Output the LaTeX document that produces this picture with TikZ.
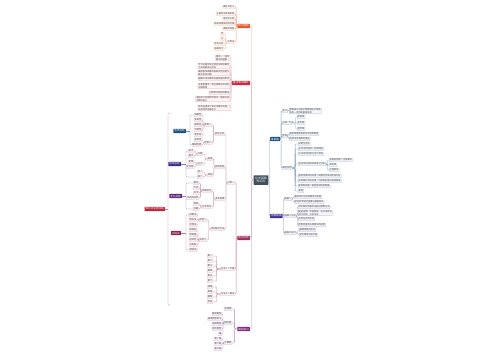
\documentclass[tikz,border=0pt]{standalone}
\usepackage{fontspec}
\setmainfont{Noto Sans CJK SC}
\usetikzlibrary{calc}
\newcommand\lfs{\fontsize{2.2}{2.6}\selectfont}
\newcommand\mfs{\fontsize{2.6}{3}\selectfont}
\newcommand\cfs{\fontsize{2.9}{3.6}\selectfont}
\definecolor{cOr}{HTML}{E2572C}
\definecolor{cRe}{HTML}{C92A3E}
\definecolor{cMa}{HTML}{A62A5E}
\definecolor{cPu}{HTML}{7C2B7E}
\definecolor{cNv}{HTML}{1E5180}
\definecolor{cIn}{HTML}{3F2F91}
\definecolor{cCe}{HTML}{3E4F5B}
\definecolor{sNv}{HTML}{1C4F7C}
\definecolor{sPu}{HTML}{3C2E86}
\definecolor{sPv}{HTML}{5B2977}
\definecolor{sMa}{HTML}{8E2150}
\definecolor{sRe}{HTML}{B5293C}
\begin{document}
\begin{tikzpicture}[x=1pt,y=-1pt,
  lf/.style={draw=#1!40, fill=#1!5, line width=0.25pt, inner xsep=0.6pt, inner ysep=0.45pt, font=\lfs, text=black!75, align=left, rounded corners=0.3pt},
  mn/.style={fill=#1, text=white, font=\mfs, inner xsep=1pt, inner ysep=0.9pt, rounded corners=0.4pt},
  al/.style={anchor=east}, ar/.style={anchor=west},
  hv/.style={to path={let \p1=(\tikztostart), \p2=(\tikztotarget) in -- ({(\x1+\x2)/2},\y1) |- (\tikztotarget)}},
  cn/.style={draw=#1!55, line width=0.3pt, rounded corners=1pt},
  sm/.style={draw=#1!60, line width=0.3pt, rounded corners=1pt},
]
\fill[white] (0,0) rectangle (500,360);
\useasboundingbox (0,0) rectangle (500,360);

% central
\node[fill=cCe, text=white, font=\cfs, align=center, inner xsep=1.6pt, inner ysep=1.6pt, rounded corners=0.5pt] (Ce) at (261,180) {化学基础\\知识点};

% ---------- orange branch ----------
\node[mn=cOr,al] (O) at (250,26) {知识结构};
\node[lf=cOr,al] (o1) at (235,7) {概念与定义};
\node[lf=cOr,al] (o2) at (235,14) {主要特点及其表现};
\node[lf=cOr,al] (o3) at (235,19) {常见的分类};
\node[lf=cOr,al] (o4) at (235,24) {相关原理及应用范围};
\node[lf=cOr,al] (o5) at (235,29) {典型的例题};
\node[lf=cOr,al] (os) at (235,42) {分类法};
\node[lf=cOr,al] (os1) at (224,34) {甲};
\node[lf=cOr,al] (os2) at (224,39) {乙};
\node[lf=cOr,al] (os3) at (224,44) {综合分析};
\node[lf=cOr,al] (os4) at (224,49) {拓展练习};
\foreach \c in {o1,o2,o3,o4,o5,os} \draw[cn=cOr] (O.west) to[hv] (\c.east);
\foreach \c in {os1,os2,os3,os4} \draw[cn=cOr] (os.west) to[hv] (\c.east);

% ---------- red branch ----------
\node[mn=cRe,al] (Rd) at (250,83) {重点难点解析};
\node[lf=cRe,al] (r1) at (230,58) {重点一：基本\\概念的理解};
\node[lf=cRe,al] (r2) at (230,66) {学习过程中应注意区分相近概念\\之间的联系与区别};
\node[lf=cRe,al] (r3) at (230,73) {掌握基本原理并能够灵活运用于\\解决实际问题};
\node[lf=cRe,al] (r4) at (230,79) {理解公式的推导过程及适用条件};
\node[lf=cRe,al] (r5) at (230,86) {注意易错点：单位换算与符号的\\正确使用};
\node[lf=cRe,al] (r6) at (230,93) {归纳常见题型的解法};
\node[lf=cRe,al] (r7) at (230,99) {通过练习巩固所学知识，提高分析\\问题的能力};
\node[lf=cRe,al] (r8) at (230,108) {综合运用多个知识点解决问题，\\培养综合思维能力};
\foreach \c in {r1,r2,r3,r4,r5,r6,r7,r8} \draw[cn=cRe] (Rd.west) to[hv] (\c.east);

% ---------- magenta branch ----------
\node[mn=cMa,al] (Mg) at (250,238) {知识应用};
\node[lf=cMa,al] (M1) at (235,183) {分类一};
\node[lf=cMa,al] (N1) at (235,269) {方法二 > 步骤};
\node[lf=cMa,al] (N2) at (235,294) {方法三 > 要点};
\foreach \c in {M1,N1,N2} \draw[cn=cMa] (Mg.west) to[hv] (\c.east);

\node[lf=cMa,al] (L1) at (225,134) {特征分析};
\node[lf=cMa,al] (L2) at (225,167) {结构组成};
\node[lf=cMa,al] (L3) at (225,199) {变化规律};
\node[lf=cMa,al] (L4) at (225,229) {实验探究方法};
\foreach \c in {L1,L2,L3,L4} \draw[cn=cMa] (M1.west) to[hv] (\c.east);

\node[lf=cMa,al] (A1) at (212,125) {性质一};
\node[lf=cMa,al] (A2) at (212,143) {性质二};
\foreach \c in {A1,A2} \draw[cn=cMa] (L1.west) to[hv] (\c.east);
\node[lf=cMa,al] (a11) at (202,115) {溶解性};
\node[lf=cMa,al] (a12) at (202,120) {导电性};
\node[lf=cMa,al] (a13) at (202,125) {稳定性};
\node[lf=cMa,al] (a14) at (202,130) {可燃性};
\node[lf=cMa,al] (a15) at (202,135) {氧化性};
\node[lf=cMa,al] (a21) at (202,140) {还原性};
\node[lf=cMa,al] (a22) at (202,145) {酸碱性质};
\foreach \c in {a11,a12,a13,a14,a15} \draw[cn=cMa] (A1.west) to[hv] (\c.east);
\foreach \c in {a21,a22} \draw[cn=cMa] (A2.west) to[hv] (\c.east);

\node[lf=cMa,al] (B) at (213,159) {组成};
\node[lf=cMa,al] (Bb) at (213,175) {其他};
\foreach \c in {B,Bb} \draw[cn=cMa] (L2.west) to[hv] (\c.east);
\node[lf=cMa,al] (B1) at (203,154) {元素};
\node[lf=cMa,al] (B2) at (203,164) {分子};
\foreach \c in {B1,B2} \draw[cn=cMa] (B.west) to[hv] (\c.east);
\node[lf=cMa,al] (b11) at (194,151) {原子};
\node[lf=cMa,al] (b12) at (194,156) {离子};
\node[lf=cMa,al] (b21) at (194,162) {单质};
\node[lf=cMa,al] (b22) at (194,167) {化合物};
\foreach \c in {b11,b12} \draw[cn=cMa] (B1.west) to[hv] (\c.east);
\foreach \c in {b21,b22} \draw[cn=cMa] (B2.west) to[hv] (\c.east);
\node[lf=cMa,al] (bb1) at (203,172) {其一};
\node[lf=cMa,al] (bb2) at (203,177) {其二};
\foreach \c in {bb1,bb2} \draw[cn=cMa] (Bb.west) to[hv] (\c.east);

\node[lf=cMa,al] (C1) at (212,191) {物理变化};
\node[lf=cMa,al] (C2) at (212,207) {化学变化};
\foreach \c in {C1,C2} \draw[cn=cMa] (L3.west) to[hv] (\c.east);
\node[lf=cMa,al] (c11) at (199,183) {熔化};
\node[lf=cMa,al] (c12) at (199,188) {汽化};
\node[lf=cMa,al] (c13) at (199,193) {升华};
\node[lf=cMa,al] (c14) at (199,198) {状态的改变};
\node[lf=cMa,al] (c21) at (199,204) {燃烧};
\node[lf=cMa,al] (c22) at (199,209) {分解};
\foreach \c in {c11,c12,c13,c14} \draw[cn=cMa] (C1.west) to[hv] (\c.east);
\foreach \c in {c21,c22} \draw[cn=cMa] (C2.west) to[hv] (\c.east);

\node[lf=cMa,al] (D1) at (207,220) {实验一};
\node[lf=cMa,al] (D2) at (207,240) {实验二};
\foreach \c in {D1,D2} \draw[cn=cMa] (L4.west) to[hv] (\c.east);
\node[lf=cMa,al] (d11) at (197,215) {观察法};
\node[lf=cMa,al] (d12) at (197,220) {假设法};
\node[lf=cMa,al] (d13) at (197,225) {对照法};
\node[lf=cMa,al] (d21) at (197,230) {取样品};
\node[lf=cMa,al] (d22) at (197,235) {称质量};
\node[lf=cMa,al] (d23) at (197,240) {加试剂};
\node[lf=cMa,al] (d24) at (197,245) {记现象};
\node[lf=cMa,al] (d25) at (197,250) {得结论};
\foreach \c in {d11,d12,d13} \draw[cn=cMa] (D1.west) to[hv] (\c.east);
\foreach \c in {d21,d22,d23,d24,d25} \draw[cn=cMa] (D2.west) to[hv] (\c.east);

\node[lf=cMa,al] (n1) at (213,256) {第一};
\node[lf=cMa,al] (n2) at (213,261) {第二};
\node[lf=cMa,al] (n3) at (213,266) {第三};
\node[lf=cMa,al] (n4) at (213,271) {第四};
\node[lf=cMa,al] (n5) at (213,276) {第五};
\node[lf=cMa,al] (n6) at (213,281) {第六};
\foreach \c in {n1,n2,n3,n4,n5,n6} \draw[cn=cMa] (N1.west) to[hv] (\c.east);
\node[lf=cMa,al] (m1) at (213,287) {读题};
\node[lf=cMa,al] (m2) at (213,292) {审题};
\node[lf=cMa,al] (m3) at (213,297) {解题};
\node[lf=cMa,al] (m4) at (213,302) {检验};
\foreach \c in {m1,m2,m3,m4} \draw[cn=cMa] (N2.west) to[hv] (\c.east);

% summaries
\node[mn=sNv,al] (sN) at (186,131) {性质总结};
\coordinate (kN) at (190,131);
\draw[sm=sNv] (a11.west) -| (kN) |- (a22.west);
\draw[sm=sNv] (sN.east) -- (kN);
\node[mn=sPu,al] (sP) at (181,164) {组成总结};
\coordinate (kP) at (186,164);
\draw[sm=sPu] (b11.west) -| (kP) |- (bb2.west);
\draw[sm=sPu] (sP.east) -- (kP);
\node[mn=sPv,al] (sQ) at (182,196) {变化总结};
\coordinate (kQ) at (186,196);
\draw[sm=sPv] (c11.west) -| (kQ) |- (c22.west);
\draw[sm=sPv] (sQ.east) -- (kQ);
\node[mn=sMa,al] (sM) at (181,233) {实验法};
\coordinate (kM) at (186,233);
\draw[sm=sMa] (d11.west) -| (kM) |- (d25.west);
\draw[sm=sMa] (sM.east) -- (kM);

\node[mn=sRe,al] (sR) at (165,209) {知识点总结归纳};
\coordinate (fT) at (171,113);
\coordinate (fB) at (171,305);
\coordinate (fm) at (168,209);
\draw[sm=sRe] (fT) -| (fm) |- (fB);
\draw[sm=sRe] (sR.east) -- (fm);

% ---------- purple branch ----------
\node[mn=cPu,al] (Pp) at (250,329) {课后练习};
\node[lf=cPu,al] (P1) at (232,309) {选择题};
\node[lf=cPu,al] (P2) at (232,323) {填空题};
\node[lf=cPu,al] (P3) at (232,343) {计算题};
\foreach \c in {P1,P2,P3} \draw[cn=cPu] (Pp.west) to[hv] (\c.east);
\node[lf=cPu,al] (p21) at (222,314) {基础题型};
\node[lf=cPu,al] (p22) at (222,319) {提高题型练习};
\node[lf=cPu,al] (p23) at (222,324) {易错题型};
\node[lf=cPu,al] (p24) at (222,329) {综合题型};
\node[lf=cPu,al] (p25) at (222,334) {略};
\foreach \c in {p21,p22,p23,p24,p25} \draw[cn=cPu] (P2.west) to[hv] (\c.east);
\node[lf=cPu,al] (p31) at (222,339) {第一题};
\node[lf=cPu,al] (p32) at (222,344) {第二题};
\node[lf=cPu,al] (p33) at (222,349) {第三题};
\foreach \c in {p31,p32,p33} \draw[cn=cPu] (P3.west) to[hv] (\c.east);

% trunk
\draw[cn=cOr] (Ce.west) to[hv] (O.east);
\draw[cn=cRe] (Ce.west) to[hv] (Rd.east);
\draw[cn=cMa] (Ce.west) to[hv] (Mg.east);
\draw[cn=cPu] (Ce.west) to[hv] (Pp.east);

% ---------- right: navy ----------
\node[mn=cNv,ar] (R1) at (270,139) {基础篇};
\node[lf=cNv,ar] (ra) at (282,111) {定义};
\node[lf=cNv,ar] (rb) at (282,123) {分类 - 方法};
\node[lf=cNv,ar] (rc) at (282,136) {性质};
\node[lf=cNv,ar] (rd) at (282,168) {典型应用};
\foreach \c in {ra,rb,rc,rd} \draw[cn=cNv] (R1.east) to[hv] (\c.west);
\node[lf=cNv,ar] (ra1) at (289,111) {物质由分子原子等微观粒子构成\\具有一定的质量和体积};
\draw[cn=cNv] (ra.east) to[hv] (ra1.west);
\node[lf=cNv,ar] (rb1) at (297,117) {单质类};
\node[lf=cNv,ar] (rb2) at (297,123) {化合物};
\node[lf=cNv,ar] (rb3) at (297,129) {混合物};
\foreach \c in {rb1,rb2,rb3} \draw[cn=cNv] (rb.east) to[hv] (\c.west);
\node[lf=cNv,ar] (rc1) at (289,134) {具有物理性质和化学性质两类};
\node[lf=cNv,ar] (rc2) at (289,139) {性质决定物质的用途};
\foreach \c in {rc1,rc2} \draw[cn=cNv] (rc.east) to[hv] (\c.west);
\node[lf=cNv,ar] (rd1) at (298,144) {日常生活中};
\node[lf=cNv,ar] (rd2) at (298,149) {生活中的应用 > 日常用品};
\node[lf=cNv,ar] (rd3) at (298,154) {工业中的应用与生产实践};
\node[lf=cNv,ar] (rd4) at (298,164) {农业中的应用及其意义分析};
\node[lf=cNv,ar] (rd5) at (298,176) {医药领域中的应用 > 药物的合成与检测分析};
\node[lf=cNv,ar] (rd6) at (298,181) {环境保护中的应用 > 污染物处理与资源回收};
\node[lf=cNv,ar] (rd7) at (298,186) {新材料研发 > 高性能材料的制备};
\node[lf=cNv,ar] (rd8) at (298,191) {其他};
\foreach \c in {rd1,rd2,rd3,rd4,rd5,rd6,rd7,rd8} \draw[cn=cNv] (rd.east) to[hv] (\c.west);
\node[lf=cNv,ar] (rd41) at (329,160) {化肥的使用 > 注意事项};
\node[lf=cNv,ar] (rd42) at (329,165) {农药类};
\node[lf=cNv,ar] (rd43) at (329,170) {土壤改良};
\foreach \c in {rd41,rd42,rd43} \draw[cn=cNv] (rd4.east) to[hv] (\c.west);

% ---------- right: indigo ----------
\node[mn=cIn,ar] (R2) at (270,216) {拓展提高};
\node[lf=cIn,ar] (re) at (284,199) {拓展一};
\node[lf=cIn,ar] (rf) at (284,216) {拓展二方法};
\node[lf=cIn,ar] (rg) at (284,233) {拓展三技巧};
\foreach \c in {re,rf,rg} \draw[cn=cIn] (R2.east) to[hv] (\c.west);
\node[lf=cIn,ar] (re1) at (294,197) {相关学科之间的联系与渗透};
\node[lf=cIn,ar] (re2) at (294,202) {前沿科学研究成果与发展动态};
\foreach \c in {re1,re2} \draw[cn=cIn] (re.east) to[hv] (\c.west);
\node[lf=cIn,ar] (rf1) at (298,207) {科学探究的基本过程与常用方法};
\node[lf=cIn,ar] (rf2) at (298,213) {提出问题、作出假设、设计实验与\\进行实验、分析论证};
\node[lf=cIn,ar] (rf3) at (298,219) {交流与合作评估};
\node[lf=cIn,ar] (rf4) at (298,225) {控制变量法与转换法的运用};
\foreach \c in {rf1,rf2,rf3,rf4} \draw[cn=cIn] (rf.east) to[hv] (\c.west);
\node[lf=cIn,ar] (rg1) at (299,230) {解题思路与技巧};
\node[lf=cIn,ar] (rg2) at (299,235) {常见错误分析总结};
\foreach \c in {rg1,rg2} \draw[cn=cIn] (rg.east) to[hv] (\c.west);

\draw[cn=cNv] (Ce.east) to[hv] (R1.west);
\draw[cn=cIn] (Ce.east) to[hv] (R2.west);
\end{tikzpicture}
\end{document}
